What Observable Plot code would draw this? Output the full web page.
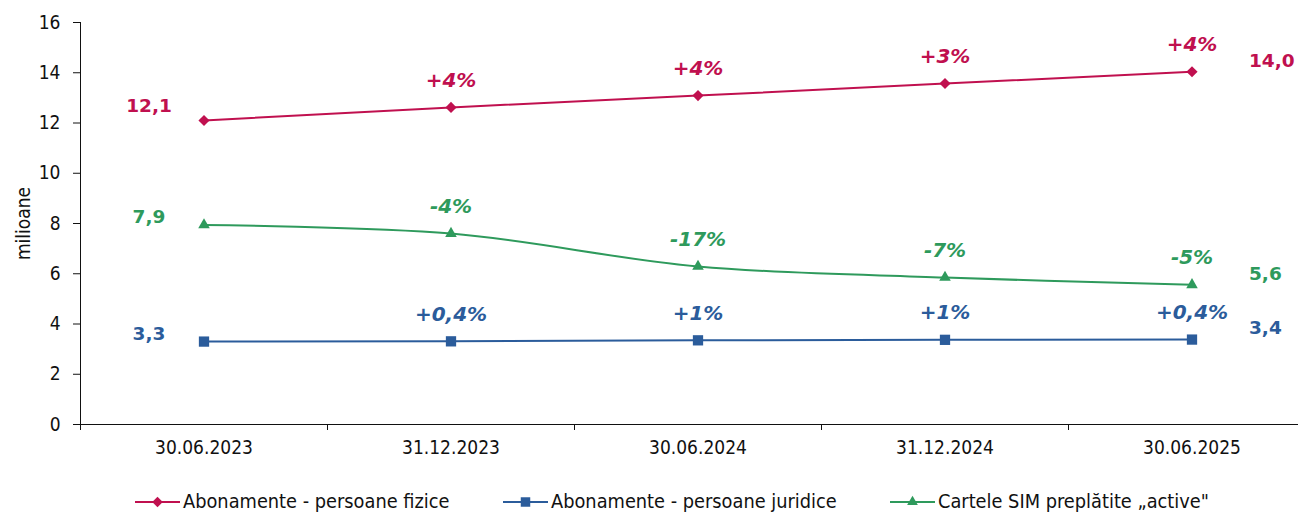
<!DOCTYPE html>
<html>
<head>
<meta charset="utf-8">
<script src="https://cdn.jsdelivr.net/npm/d3@7"></script>
<script src="https://cdn.jsdelivr.net/npm/@observablehq/plot@0.6"></script>
<style>
  body { margin: 0; background: #fff; font-family: "DejaVu Sans Condensed", "DejaVu Sans", sans-serif; }
  #legend { position: relative; height: 41px; }
  .item { position: absolute; top: 15px; display: flex; align-items: center; font-size: 19.8px; color: #111; white-space: nowrap; }
  .item svg { margin-right: 3px; }
</style>
</head>
<body>
<div id="chart"></div>
<div id="legend"></div>
<script>
const dates = ["30.06.2023", "31.12.2023", "30.06.2024", "31.12.2024", "30.06.2025"];
const fizice = [12.1, 12.62, 13.09, 13.57, 14.04];
const juridice = [3.30, 3.31, 3.35, 3.37, 3.38];
const sim = [7.94, 7.60, 6.29, 5.85, 5.56];
const fiziceChg = ["", "+4%", "+4%", "+3%", "+4%"];
const juridiceChg = ["", "+0,4%", "+1%", "+1%", "+0,4%"];
const simChg = ["", "-4%", "-17%", "-7%", "-5%"];
const seriesNames = ["Abonamente - persoane fizice", "Abonamente - persoane juridice", "Cartele SIM preplătite „active\""];
const yTicks = [0, 2, 4, 6, 8, 10, 12, 14, 16];
const yLabel = "milioane";

const RED = "#C0104F", BLUE = "#2B5C9B", GREEN = "#2E9A5C";
const fmt = v => d3.format(".1f")(v).replace(".", ",");
const idx = dates.map((d, i) => i);
const last = dates.length - 1;
const bounds = [-0.5, ...idx.slice(1).map(i => i - 0.5)];

function rows(values, chg) {
  return values.map((v, i) => ({i, v, c: chg[i]}));
}

function seriesMarks(values, chg, color, symbol, r, curve, startDy) {
  const data = rows(values, chg);
  const lab = {fill: color, fontWeight: "bold", fontFamily: "'DejaVu Sans', sans-serif"};
  return [
    Plot.line(data, {x: "i", y: "v", stroke: color, strokeWidth: 2, curve}),
    Plot.dot(data, {x: "i", y: "v", fill: color, stroke: null, symbol, r}),
    Plot.text(data.filter(d => d.c), {x: "i", y: "v", text: "c", dy: -27, fontStyle: "italic", fontSize: 20, ...lab}),
    Plot.text(data.filter(d => d.i === 0), {x: "i", y: "v", text: d => fmt(d.v), dx: -55, dy: startDy, fontSize: 18.5, ...lab}),
    Plot.text(data.filter(d => d.i === last), {x: "i", y: "v", text: d => fmt(d.v), dx: 57, dy: -11, textAnchor: "start", fontSize: 18.5, ...lab})
  ];
}

const chart = Plot.plot({
  width: 1298,
  height: 475,
  marginTop: 22,
  marginBottom: 51,
  marginLeft: 80,
  marginRight: 0,
  style: {fontFamily: "'DejaVu Sans Condensed', 'DejaVu Sans', sans-serif", fontSize: "19px", color: "#111"},
  x: {domain: [-0.5, last + 0.5], range: [80, 80 + 247 * dates.length]},
  y: {domain: [0, 16]},
  marks: [
    Plot.frame({anchor: "left", stroke: "#111"}),
    Plot.frame({anchor: "bottom", stroke: "#111"}),
    Plot.axisY({ticks: yTicks, tickSize: 7, tickPadding: 13, label: null, tickFormat: d => d}),
    Plot.axisX({ticks: bounds, tickSize: 6, tickFormat: () => "", label: null}),
    Plot.axisX({ticks: idx, tickSize: 0, tickPadding: 16, tickFormat: i => dates[i], label: null}),
    Plot.text([yLabel], {frameAnchor: "left", dx: -57, rotate: -90, textAnchor: "middle", text: d => d, fontSize: 19}),
    ...seriesMarks(juridice, juridiceChg, BLUE, "square", 5.8, "linear", -8),
    ...seriesMarks(sim, simChg, GREEN, "triangle", 4.3, "catmull-rom", -8),
    ...seriesMarks(fizice, fiziceChg, RED, "diamond2", 5, "linear", -14)
  ]
});
document.getElementById("chart").appendChild(chart);

// legend
const legend = d3.select("#legend");
const items = [
  {name: seriesNames[0], color: RED, symbol: d3.symbolDiamond2, size: 70, left: 135},
  {name: seriesNames[1], color: BLUE, symbol: d3.symbolSquare, size: 90, left: 503},
  {name: seriesNames[2], color: GREEN, symbol: d3.symbolTriangle, size: 50, left: 890}
];
items.forEach(it => {
  const div = legend.append("div").attr("class", "item").style("left", it.left + "px");
  const s = div.append("svg").attr("width", 45).attr("height", 14);
  s.append("line").attr("x1", 0).attr("x2", 45).attr("y1", 7).attr("y2", 7).attr("stroke", it.color).attr("stroke-width", 2);
  s.append("path").attr("d", d3.symbol(it.symbol, it.size)()).attr("transform", "translate(22.5,7)").attr("fill", it.color);
  div.append("span").text(it.name);
});
</script>
</body>
</html>
